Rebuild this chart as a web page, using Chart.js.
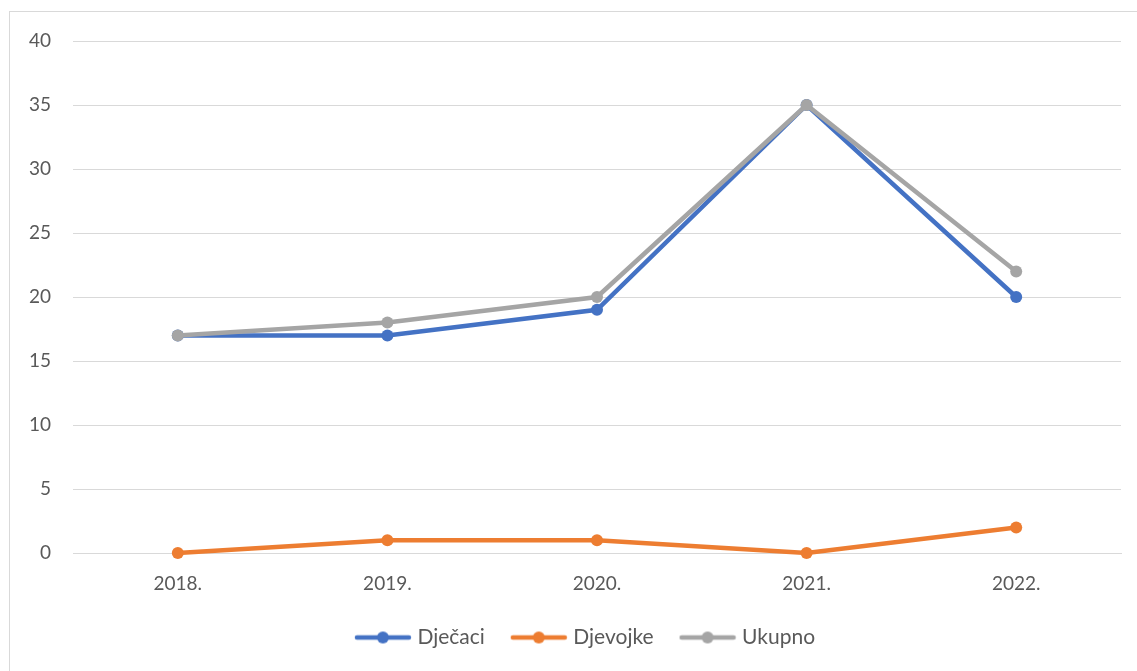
<!DOCTYPE html>
<html>
<head>
<meta charset="utf-8">
<script src="https://cdn.jsdelivr.net/npm/chart.js@4.4.1/dist/chart.umd.min.js"></script>
<style>
  html, body { margin: 0; padding: 0; background: #fff; }
  #wrap { position: relative; width: 1137px; height: 671px; overflow: hidden; }
  #frame { position: absolute; left: 9px; top: 11px; width: 1160px; height: 700px;
           border: 1px solid #d9d9d9; box-sizing: border-box; pointer-events: none; }
  #chart { position: absolute; left: 0; top: 0; }
</style>
</head>
<body>
<div id="wrap">
  <canvas id="chart" width="1137" height="671"></canvas>
  <div id="frame"></div>
</div>
<script>
const years = ['2018.', '2019.', '2020.', '2021.', '2022.'];
const djecaci = [17, 17, 19, 35, 20];
const djevojke = [0, 1, 1, 0, 2];
const ukupno = [17, 18, 20, 35, 22];
const yTicks = [0, 5, 10, 15, 20, 25, 30, 35, 40];

const textColor = '#595959';
const gridColor = '#d9d9d9';
const fontFamily = 'Lato, "Open Sans", sans-serif';
const fontSize = 19;

// small picture for the legend: line with a dot in the middle
function legendMark(color) {
  const c = document.createElement('canvas');
  c.width = 58;
  c.height = 14;
  const g = c.getContext('2d');
  g.strokeStyle = color;
  g.lineWidth = 4.5;
  g.lineCap = 'round';
  g.beginPath();
  g.moveTo(3, 7);
  g.lineTo(55, 7);
  g.stroke();
  g.fillStyle = color;
  g.beginPath();
  g.arc(29, 7, 6, 0, Math.PI * 2);
  g.fill();
  return c;
}

function series(label, data, color, order) {
  return {
    label: label,
    data: data,
    borderColor: color,
    backgroundColor: color,
    borderWidth: 4.5,
    pointStyle: 'circle',
    pointRadius: 6,
    pointHoverRadius: 6,
    pointBackgroundColor: color,
    pointBorderWidth: 0,
    tension: 0,
    fill: false,
    clip: false,
    order: order
  };
}

// legend sits a bit left of the plot centre, like in Excel
const legendNudge = {
  id: 'legendNudge',
  afterLayout(chart) {
    chart.legend.left -= 10;
    chart.legend.right -= 10;
  }
};

const ctx = document.getElementById('chart').getContext('2d');
new Chart(ctx, {
  type: 'line',
  data: {
    labels: years,
    datasets: [
      series('Dječaci', djecaci, '#4472C4', 1),
      series('Djevojke', djevojke, '#ED7D31', 2),
      series('Ukupno', ukupno, '#A5A5A5', 0)
    ]
  },
  plugins: [legendNudge],
  options: {
    responsive: false,
    animation: false,
    devicePixelRatio: 1,
    layout: { padding: { top: 41, bottom: 13, left: 0, right: 16 } },
    plugins: {
      tooltip: { enabled: false },
      legend: {
        position: 'bottom',
        fullSize: false,
        labels: {
          usePointStyle: true,
          pointStyleWidth: 48,
          padding: 30,
          color: textColor,
          font: { family: fontFamily, size: 21 },
          generateLabels: chart => {
            const items = Chart.defaults.plugins.legend.labels.generateLabels(chart);
            items.forEach(it => {
              it.pointStyle = legendMark(chart.data.datasets[it.datasetIndex].borderColor);
            });
            return items;
          },
          sort: (a, b) => a.datasetIndex - b.datasetIndex
        }
      }
    },
    scales: {
      x: {
        offset: true,
        grid: { display: false, drawTicks: false },
        border: { color: gridColor, width: 1 },
        ticks: { color: textColor, padding: 19, font: { family: fontFamily, size: fontSize } },
        afterFit: scale => { scale.height = 44; }
      },
      y: {
        min: 0,
        max: 40,
        afterBuildTicks: scale => { scale.ticks = yTicks.map(v => ({ value: v })); },
        grid: { color: gridColor, lineWidth: 1, drawTicks: false },
        border: { display: false },
        ticks: { color: textColor, padding: 22, font: { family: fontFamily, size: fontSize } },
        afterFit: scale => { scale.width = 73; }
      }
    }
  }
});
</script>
</body>
</html>
